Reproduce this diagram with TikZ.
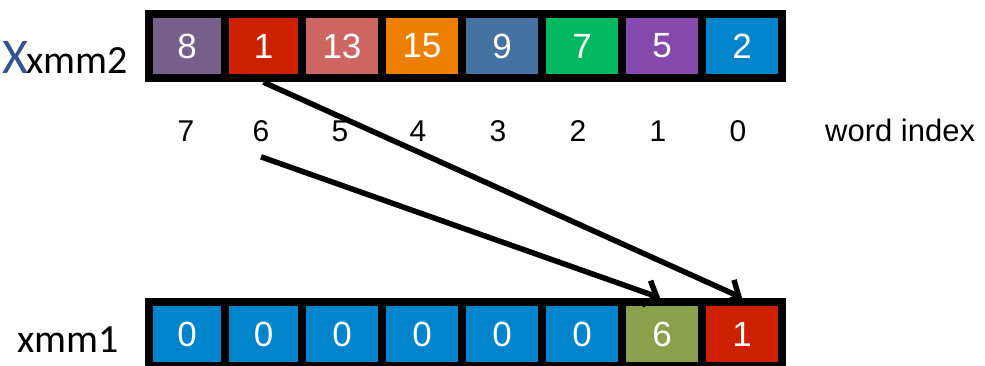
\documentclass[tikz,border=0pt]{standalone}
\usepackage{fontspec}
\setmainfont{Liberation Sans}
\newfontfamily\carl{Carlito}
\usetikzlibrary{arrows.meta}
\definecolor{cPurpleGrey}{RGB}{118,96,138}
\definecolor{cRed}{RGB}{204,32,0}
\definecolor{cSalmon}{RGB}{205,102,96}
\definecolor{cOrange}{RGB}{238,127,0}
\definecolor{cSteel}{RGB}{69,114,160}
\definecolor{cGreen}{RGB}{0,184,96}
\definecolor{cPurple}{RGB}{133,73,173}
\definecolor{cBlue}{RGB}{0,132,204}
\definecolor{cOlive}{RGB}{138,160,74}
\definecolor{cXBlue}{RGB}{47,85,151}
\tikzset{
  regbox/.style={fill=black, draw=none, rectangle, inner sep=0pt, minimum width=641pt, minimum height=72pt},
  cellbox/.style={rectangle, draw=none, inner sep=0pt, minimum height=56pt, text=white,
    font=\fontsize{35}{35}\selectfont},
  idx/.style={inner sep=0pt, font=\fontsize{30}{30}\selectfont},
  reglabel/.style={inner sep=0pt, anchor=base west, font=\carl\fontsize{40}{40}\selectfont},
  moveline/.style={line width=5.5pt, -{Straight Barb[length=11pt,width=26pt]}}
}
\begin{document}
\begin{tikzpicture}[x=1pt,y=-1pt]
\useasboundingbox (0,0) rectangle (985,366);
\clip (0,0) rectangle (985,366);
% registers
\node[regbox] (reg2) at (465.5,46) {};
\node[regbox] (reg1) at (465.5,334) {};
% xmm2 cells
\node[cellbox, fill=cPurpleGrey, minimum width=68pt] (t7) at (187,46) {8};
\node[cellbox, fill=cRed, minimum width=69pt] (t6) at (263.5,46) {1};
\node[cellbox, fill=cSalmon, minimum width=72pt] (t5) at (342,46) {13};
\node[cellbox, fill=cOrange, minimum width=72pt] (t4) at (422,46) {15};
\node[cellbox, fill=cSteel, minimum width=72pt] (t3) at (502,46) {9};
\node[cellbox, fill=cGreen, minimum width=72pt] (t2) at (582,46) {7};
\node[cellbox, fill=cPurple, minimum width=72pt] (t1) at (662,46) {5};
\node[cellbox, fill=cBlue, minimum width=72pt] (t0) at (742,46) {2};
% xmm1 cells
\node[cellbox, fill=cBlue, minimum width=68pt] (b7) at (187,334) {0};
\node[cellbox, fill=cBlue, minimum width=69pt] (b6) at (263.5,334) {0};
\node[cellbox, fill=cBlue, minimum width=72pt] (b5) at (342,334) {0};
\node[cellbox, fill=cBlue, minimum width=72pt] (b4) at (422,334) {0};
\node[cellbox, fill=cBlue, minimum width=72pt] (b3) at (502,334) {0};
\node[cellbox, fill=cBlue, minimum width=72pt] (b2) at (582,334) {0};
\node[cellbox, fill=cOlive, minimum width=72pt] (b1) at (662,334) {6};
\node[cellbox, fill=cRed, minimum width=72pt] (b0) at (742,334) {1};
% word index
\node[idx] (i7) at (186,131) {7};
\node[idx] (i6) at (261,131) {6};
\node[idx] (i5) at (340,131) {5};
\node[idx] (i4) at (418,131) {4};
\node[idx] (i3) at (498,131) {3};
\node[idx] (i2) at (578,131) {2};
\node[idx] (i1) at (658,131) {1};
\node[idx] (i0) at (738,131) {0};
\node[inner sep=0pt, anchor=base west, font=\fontsize{31}{31}\selectfont] (wi) at (825,142) {word index};
% labels
\node[reglabel] (l2) at (2,74) {{\color{cXBlue}\fontsize{50}{50}\selectfont X}\kern-2pt xmm2};
\node[reglabel] (l1) at (17,352) {xmm1};
% arrows
\coordinate (a2start) at ([yshift=-15pt]i6.south);
\draw[moveline] (t6 |- reg2.south) -- (b0 |- reg1.north);
\draw[moveline] (a2start) -- ([xshift=-2pt]b1 |- reg1.north);
\end{tikzpicture}
\end{document}
